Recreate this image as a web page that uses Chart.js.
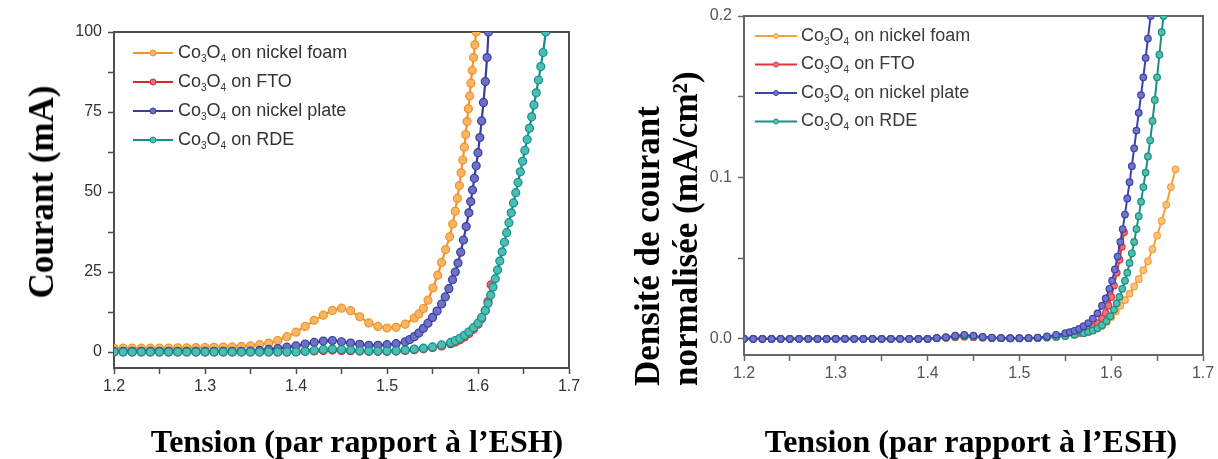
<!DOCTYPE html>
<html>
<head>
<meta charset="utf-8">
<script src="https://cdn.jsdelivr.net/npm/chart.js@4.4.1/dist/chart.umd.min.js"></script>
<style>
  body { margin: 0; background: #fff; }
  #page { position: relative; width: 1218px; height: 459px; overflow: hidden; }
  canvas { position: absolute; top: 0; }
  .title {
    position: absolute;
    font-family: "Liberation Serif", "Times New Roman", serif;
    font-weight: bold;
    color: #000;
    white-space: nowrap;
  }
</style>
</head>
<body>
<div id="page">
  <canvas id="chartLeft" width="600" height="459" style="left:0"></canvas>
  <canvas id="chartRight" width="608" height="459" style="left:610px"></canvas>
  <div class="title" style="left:42px;top:192px;font-size:35px;transform:translate(-50%,-50%) rotate(-90deg)">Courant (mA)</div>
  <div class="title" style="left:667px;top:226px;width:320px;font-size:35px;line-height:38px;text-align:left;transform:translate(-50%,-50%) rotate(-90deg)">Densité de courant<br>normalisée (mA/cm²)</div>
  <div class="title" style="left:357px;top:441px;font-size:32px;transform:translate(-50%,-50%)">Tension (par rapport à l’ESH)</div>
  <div class="title" style="left:971px;top:441px;font-size:32px;transform:translate(-50%,-50%)">Tension (par rapport à l’ESH)</div>
</div>
<script>
// Co3O4 polarisation curves: raw current (left) and normalised current density (right)

const FONT = '"Liberation Sans", Arial, sans-serif';

const seriesLabels = ['Co₃O₄ on nickel foam', 'Co₃O₄ on FTO', 'Co₃O₄ on nickel plate', 'Co₃O₄ on RDE'];

const voltGrid = [1.20, 1.21, 1.22, 1.23, 1.24, 1.25, 1.26, 1.27, 1.28, 1.29, 1.30, 1.31, 1.32, 1.33, 1.34,
  1.35, 1.36, 1.37, 1.38, 1.39, 1.40, 1.41, 1.42, 1.43, 1.44, 1.45, 1.46, 1.47, 1.48, 1.49, 1.50, 1.51,
  1.52, 1.53, 1.54, 1.55, 1.56, 1.57];

// ---- left panel: current (mA) ----
const voltFoamL = [...voltGrid.slice(0, 34), 1.535, 1.54, 1.545, 1.5505, 1.5557, 1.560, 1.5644, 1.5689, 1.5721,
  1.575, 1.5773, 1.5795, 1.5814, 1.5833, 1.585, 1.5865, 1.588, 1.5894, 1.5908, 1.5922, 1.5936, 1.5951, 1.5966, 1.598];
const currFoamL = [1.2, 1.2, 1.2, 1.2, 1.2, 1.2, 1.25, 1.3, 1.3, 1.35, 1.4, 1.45, 1.5, 1.6, 1.75, 1.95, 2.3, 2.8,
  3.6, 4.8, 6.2, 8.0, 9.9, 11.5, 13.0, 13.7, 12.9, 11.0, 9.1, 8.0, 7.5, 7.7, 8.7, 10.6, 11.9, 13.6, 16.2,
  20, 24, 28, 32, 36, 40, 44, 48, 52, 56, 60, 64, 68, 72, 76, 80, 84, 88, 92, 96, 100];

const voltFtoL = [...voltGrid.slice(0, 38), 1.575, 1.58, 1.585, 1.59, 1.595, 1.60, 1.604, 1.608, 1.611, 1.6145];
const currFtoL = [0, 0, 0, 0, 0, 0, 0, 0, 0, 0, 0, 0, 0, 0, 0, 0, 0, 0, 0, 0,
  0.1, 0.2, 0.35, 0.5, 0.6, 0.5, 0.4, 0.3, 0.2, 0.2, 0.2, 0.3, 0.5, 0.7, 1.0, 1.4, 1.9, 2.6,
  3.1, 3.8, 4.7, 5.8, 7.1, 8.7, 10.5, 13.0, 15.8, 21.0];

const voltPlateL = [...voltGrid.slice(0, 33), 1.525, 1.53, 1.535, 1.54, 1.545, 1.55, 1.555, 1.56, 1.564, 1.568,
  1.572, 1.575, 1.578, 1.581, 1.584, 1.587, 1.590, 1.592, 1.594, 1.596, 1.598, 1.600, 1.602, 1.604, 1.606,
  1.608, 1.610, 1.6115];
const currPlateL = [0.2, 0.2, 0.2, 0.2, 0.2, 0.2, 0.2, 0.2, 0.2, 0.2, 0.2, 0.2, 0.2, 0.2, 0.2,
  0.3, 0.5, 0.8, 1.1, 1.5, 1.9, 2.5, 3.0, 3.4, 3.6, 3.2, 2.8, 2.4, 2.1, 2.1, 2.3, 2.6, 3.2,
  3.9, 4.8, 5.9, 7.4, 9.0, 10.8, 12.8, 15.0, 17.2, 19.8, 22.6, 25.0, 27.8, 31.2, 35.0, 39.2, 43.5,
  47.0, 50.6, 54.3, 58.2, 62.3, 67.0, 72.2, 78.0, 84.5, 92.0, 100];

const voltRdeL = [...voltGrid.slice(0, 38), 1.575, 1.58, 1.585, 1.59, 1.595, 1.60, 1.604, 1.608, 1.611, 1.614,
  1.6165, 1.619, 1.6215, 1.624, 1.6265, 1.629, 1.6315, 1.634, 1.6365, 1.639, 1.6415, 1.644, 1.6465, 1.649,
  1.6515, 1.654, 1.6565, 1.659, 1.6615, 1.664, 1.6665, 1.669, 1.6715, 1.6745];
const currRdeL = [0, 0, 0, 0, 0, 0, 0, 0, 0, 0, 0, 0, 0, 0, 0, 0, 0, 0, 0, 0, 0,
  0.2, 0.5, 0.8, 0.9, 0.8, 0.6, 0.4, 0.3, 0.3, 0.3, 0.4, 0.6, 0.9, 1.2, 1.6, 2.2, 3.0,
  3.6, 4.3, 5.2, 6.3, 7.6, 9.0, 10.8, 13.0, 15.2, 17.8, 20.3, 22.9, 25.6, 28.4, 31.3, 34.3, 37.3, 40.4,
  43.5, 46.6, 49.8, 53.0, 56.3, 59.6, 63.0, 66.4, 69.9, 73.5, 77.2, 81.0, 85.0, 89.2, 93.6, 100];

// ---- right panel: normalised current density (mA/cm2) ----
const voltFoamR = [...voltGrid.slice(0, 38), 1.575, 1.58, 1.585, 1.59, 1.595, 1.60, 1.605, 1.61, 1.615, 1.62,
  1.625, 1.63, 1.635, 1.64, 1.645, 1.65, 1.655, 1.66, 1.665, 1.67];
const currFoamR = [0, 0, 0, 0, 0, 0, 0, 0, 0, 0, 0, 0, 0, 0, 0, 0, 0, 0, 0, 0, 0,
  0.0003, 0.0006, 0.001, 0.0012, 0.001, 0.0007, 0.0005, 0.0004, 0.0003, 0.0003, 0.0004, 0.0006, 0.0008,
  0.0012, 0.0018, 0.0026, 0.0037,
  0.0044, 0.0052, 0.0065, 0.008, 0.0105, 0.0135, 0.017, 0.0205, 0.024, 0.028, 0.0325, 0.037, 0.0425,
  0.048, 0.0555, 0.064, 0.073, 0.083, 0.094, 0.105];

const voltFtoR = [...voltGrid.slice(0, 36), 1.56, 1.565, 1.57, 1.575, 1.58, 1.585, 1.59, 1.594, 1.597, 1.600,
  1.603, 1.606, 1.609, 1.6115, 1.614];
const currFtoR = [0, 0, 0, 0, 0, 0, 0, 0, 0, 0, 0, 0, 0, 0, 0, 0, 0, 0, 0, 0, 0,
  0.0004, 0.0008, 0.0012, 0.0015, 0.0012, 0.0008, 0.0005, 0.0004, 0.0003, 0.0003, 0.0004, 0.0006, 0.001,
  0.0014, 0.002,
  0.003, 0.0037, 0.0045, 0.0058, 0.0075, 0.0097, 0.0128, 0.016, 0.0205, 0.026, 0.033, 0.041, 0.049, 0.057, 0.066];

const voltPlateR = [...voltGrid.slice(0, 36), 1.555, 1.56, 1.565, 1.57, 1.575, 1.58, 1.585, 1.59, 1.594, 1.598,
  1.601, 1.604, 1.607, 1.610, 1.6125, 1.615, 1.6175, 1.620, 1.6225, 1.625, 1.6275, 1.630, 1.6325, 1.635,
  1.6375, 1.640, 1.643];
const currPlateR = [0, 0, 0, 0, 0, 0, 0, 0, 0, 0, 0, 0, 0, 0, 0, 0, 0, 0, 0, 0, 0,
  0.0005, 0.001, 0.002, 0.0025, 0.002, 0.0012, 0.0008, 0.0005, 0.0004, 0.0004, 0.0005, 0.0008, 0.0015,
  0.0025, 0.0035,
  0.0042, 0.005, 0.0062, 0.0078, 0.0098, 0.0125, 0.0158, 0.0205, 0.025, 0.031, 0.036, 0.043, 0.051, 0.060,
  0.068, 0.077, 0.087, 0.097, 0.107, 0.118, 0.129, 0.140, 0.151, 0.162, 0.174, 0.186, 0.2];

const voltRdeR = [...voltGrid.slice(0, 38), 1.575, 1.58, 1.585, 1.59, 1.595, 1.599, 1.603, 1.606, 1.609, 1.612,
  1.615, 1.6175, 1.620, 1.6225, 1.625, 1.6275, 1.630, 1.6325, 1.635, 1.6375, 1.640, 1.6425, 1.645, 1.6475,
  1.650, 1.6525, 1.655, 1.657];
const currRdeR = [0, 0, 0, 0, 0, 0, 0, 0, 0, 0, 0, 0, 0, 0, 0, 0, 0, 0, 0, 0, 0,
  0.0004, 0.0008, 0.0015, 0.002, 0.0015, 0.001, 0.0006, 0.0004, 0.0003, 0.0003, 0.0004, 0.0006, 0.0008,
  0.0012, 0.0018, 0.0025, 0.0035,
  0.0043, 0.0052, 0.0065, 0.0085, 0.011, 0.014, 0.018, 0.022, 0.026, 0.031, 0.036, 0.041, 0.047, 0.053,
  0.060, 0.068, 0.076, 0.085, 0.094, 0.103, 0.113, 0.123, 0.135, 0.148, 0.162, 0.176, 0.19, 0.2];

// axis ticks (empty label = minor tick)
const xTickValues = [1.2, 1.25, 1.3, 1.35, 1.4, 1.45, 1.5, 1.55, 1.6, 1.65, 1.7];
const xTickLabels = ['1.2', '', '1.3', '', '1.4', '', '1.5', '', '1.6', '', '1.7'];
const yTickValuesL = [0, 12.5, 25, 37.5, 50, 62.5, 75, 87.5, 100];
const yTickLabelsL = ['0', '', '25', '', '50', '', '75', '', '100'];
const yTickValuesR = [0, 0.05, 0.1, 0.15, 0.2];
const yTickLabelsR = ['0.0', '', '0.1', '', '0.2'];

// colours: line, marker fill
const colorsL = [['#f29325', '#f8b565'], ['#e0262c', '#ee6a6e'], ['#3a3d9a', '#6d70c6'], ['#13908a', '#4cbdb5']];
const colorsR = [['#f5a23c', '#f9c27e'], ['#e2343a', '#ef7478'], ['#3d43a6', '#7075cb'], ['#1a9080', '#52bfae']];

function toPoints(volts, currents) {
    return volts.map((v, i) => ({ x: v, y: currents[i] }));
}

// draws "Co₃O₄ ..." with real subscripts
function drawRichLabel(ctx, text, x, y, size) {
    const subs = '₀₁₂₃₄₅₆₇₈₉';
    let buf = '';
    const flush = () => {
        if (!buf) return;
        ctx.font = `${size}px ${FONT}`;
        ctx.fillText(buf, x, y);
        x += ctx.measureText(buf).width;
        buf = '';
    };
    for (const ch of text) {
        const k = subs.indexOf(ch);
        if (k >= 0) {
            flush();
            ctx.font = `${Math.round(size * 0.58)}px ${FONT}`;
            ctx.fillText(String(k), x, y + size * 0.32);
            x += ctx.measureText(String(k)).width;
        } else {
            buf += ch;
        }
    }
    flush();
}

// legend drawn inside the plot area, top-left
const insideLegend = {
    id: 'insideLegend',
    afterDatasetsDraw(chart, args, opts) {
        const { ctx, chartArea } = chart;
        ctx.save();
        ctx.textBaseline = 'middle';
        ctx.textAlign = 'left';
        chart.data.datasets.forEach((ds, i) => {
            const x0 = chartArea.left + opts.dx;
            const y = chartArea.top + opts.dy + i * opts.gap;
            ctx.strokeStyle = ds.borderColor;
            ctx.lineWidth = ds.borderWidth;
            ctx.beginPath();
            ctx.moveTo(x0, y);
            ctx.lineTo(x0 + opts.lineLen, y);
            ctx.stroke();
            ctx.beginPath();
            ctx.arc(x0 + opts.lineLen / 2, y, opts.markerRadius, 0, Math.PI * 2);
            ctx.fillStyle = ds.pointBackgroundColor;
            ctx.fill();
            ctx.lineWidth = 1;
            ctx.stroke();
            ctx.fillStyle = opts.color;
            drawRichLabel(ctx, ds.label, x0 + opts.lineLen + opts.textGap, y, opts.fontSize);
        });
        ctx.restore();
    }
};

function makeDatasets(pairs, colors, drawOrder, radius, width) {
    return pairs.map((p, i) => ({
        label: seriesLabels[i],
        data: toPoints(p[0], p[1]),
        borderColor: colors[i][0],
        backgroundColor: colors[i][0],
        pointBackgroundColor: colors[i][1],
        pointBorderColor: colors[i][0],
        pointBorderWidth: 1.2,
        pointRadius: radius,
        borderWidth: width,
        tension: 0,
        order: drawOrder[i]
    }));
}

function makeOptions(cfg) {
    const tickFont = { family: FONT, size: 16 };
    const frame = { color: cfg.frameColor, width: 2 };
    return {
        responsive: false,
        animation: false,
        layout: { padding: cfg.padding },
        plugins: {
            legend: { display: false },
            tooltip: { enabled: false },
            insideLegend: cfg.legend
        },
        scales: {
            x: {
                type: 'linear',
                min: 1.2,
                max: 1.7,
                afterBuildTicks: s => { s.ticks = xTickValues.map(v => ({ value: v })); },
                afterFit: s => { s.height = 40; },
                ticks: {
                    autoSkip: false, maxRotation: 0, padding: 3,
                    font: tickFont, color: cfg.tickColor,
                    callback: (v, i) => xTickLabels[i]
                },
                grid: { drawOnChartArea: false, tickLength: 6, tickWidth: 1.5, tickColor: cfg.frameColor },
                border: frame
            },
            y: {
                type: 'linear',
                min: cfg.yMin,
                max: cfg.yMax,
                afterBuildTicks: s => { s.ticks = cfg.yTicks.map(v => ({ value: v })); },
                afterFit: s => { s.width = 60; },
                ticks: {
                    autoSkip: false, padding: 6,
                    font: tickFont, color: cfg.tickColor,
                    callback: (v, i) => cfg.yLabels[i]
                },
                grid: { drawOnChartArea: false, tickLength: 6, tickWidth: 1.5, tickColor: cfg.frameColor },
                border: frame
            },
            xTop: {
                type: 'linear', position: 'top', axis: 'x',
                afterFit: s => { s.height = 0; },
                ticks: { display: false },
                grid: { display: false, drawTicks: false },
                border: frame
            },
            yRight: {
                type: 'linear', position: 'right', axis: 'y',
                afterFit: s => { s.width = 0; },
                ticks: { display: false },
                grid: { display: false, drawTicks: false },
                border: frame
            }
        }
    };
}

new Chart(document.getElementById('chartLeft'), {
    type: 'line',
    data: {
        datasets: makeDatasets([
            [voltFoamL, currFoamL],
            [voltFtoL, currFtoL],
            [voltPlateL, currPlateL],
            [voltRdeL, currRdeL]
        ], colorsL, [3, 2, 1, 0], 4, 2.2)
    },
    options: makeOptions({
        padding: { left: 54, right: 31, top: 32, bottom: 51 },
        yMin: -5, yMax: 100,
        yTicks: yTickValuesL, yLabels: yTickLabelsL,
        tickColor: '#333', frameColor: '#4d4d4d',
        legend: { dx: 19, dy: 21, gap: 29, lineLen: 40, textGap: 5, fontSize: 18, color: '#333', markerRadius: 3 }
    }),
    plugins: [insideLegend]
});

new Chart(document.getElementById('chartRight'), {
    type: 'line',
    data: {
        datasets: makeDatasets([
            [voltFoamR, currFoamR],
            [voltFtoR, currFtoR],
            [voltPlateR, currPlateR],
            [voltRdeR, currRdeR]
        ], colorsR, [3, 2, 0, 1], 3.3, 2)
    },
    options: makeOptions({
        padding: { left: 74, right: 15, top: 16, bottom: 64 },
        yMin: -0.01, yMax: 0.2,
        yTicks: yTickValuesR, yLabels: yTickLabelsR,
        tickColor: '#555', frameColor: '#666',
        legend: { dx: 11, dy: 20, gap: 28.5, lineLen: 42, textGap: 4, fontSize: 18, color: '#3a3a3a', markerRadius: 2.5 }
    }),
    plugins: [insideLegend]
});
</script>
</body>
</html>
